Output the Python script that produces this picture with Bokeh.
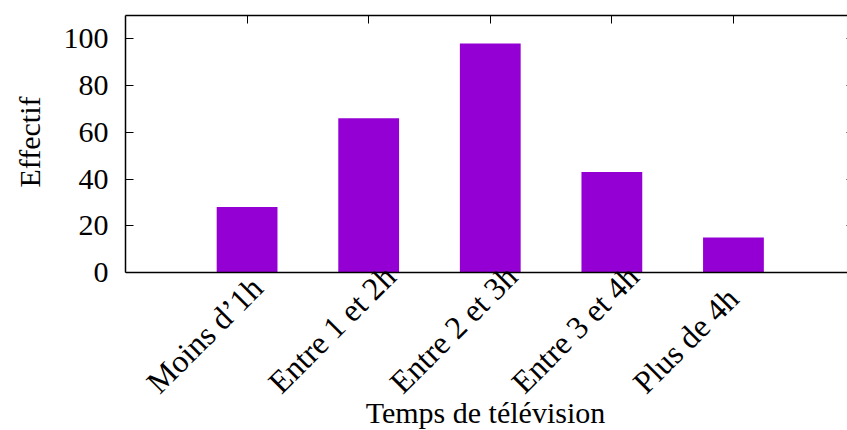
import math
from bokeh.plotting import figure
from bokeh.models import Range1d, FixedTicker, LinearAxis, ColumnDataSource, Span, Title
from bokeh.core.properties import value
from bokeh.embed import file_html
from bokeh.resources import INLINE

categories = ["Moins d\u20191h", "Entre 1 et 2h", "Entre 2 et 3h", "Entre 3 et 4h", "Plus de 4h"]
effectifs = [28, 66, 98, 43, 15]
y_ticks = [0, 20, 40, 60, 80, 100]
x_title = "Temps de t\u00e9l\u00e9vision"
y_title = "Effectif"

FONT = "Liberation Serif"
BAR = "#9400D3"

xs = list(range(len(categories)))
src = ColumnDataSource(dict(x=xs, top=effectifs, base=[0] * len(xs), cat=categories))

X0, X1 = -1.0, 4.938
Y1 = 110
# frame runs from top border down to the page bottom; y=0 sits 158 px above it
Y0 = -Y1 * 158 / 257

p = figure(frame_width=722, frame_height=415,
           min_border_left=125, min_border_top=15, min_border_right=0, min_border_bottom=0,
           x_range=Range1d(X0, X1), y_range=Range1d(Y0, Y1),
           output_backend="svg", toolbar_location=None, x_axis_location=None, y_axis_location=None)
p.outline_line_color = None
p.grid.visible = False
p.background_fill_color = "white"
p.border_fill_color = "white"

p.vbar(x="x", top="top", width=0.5, bottom=0, source=src, fill_color=BAR, line_color=None)

def style(ax, size="30px"):
    ax.axis_line_color = "black"
    ax.axis_line_width = 1.5
    ax.major_tick_line_color = "black"
    ax.major_tick_line_width = 1
    ax.minor_tick_line_color = None
    ax.major_tick_out = 0
    ax.major_tick_in = 8
    ax.major_label_text_font = FONT
    ax.major_label_text_font_size = size
    ax.major_label_text_color = "black"

def hide_labels(ax):
    ax.major_label_text_font_size = "0px"
    ax.major_label_text_color = None
    ax.major_label_standoff = 0

# left axis limited to the data part of the frame
yl = LinearAxis(ticker=FixedTicker(ticks=y_ticks), bounds=(0, Y1))
style(yl)
yl.major_label_standoff = 17
p.add_layout(yl, "left")

# y title, positioned against the data part of the frame
yt = Title(text=y_title, align="right", offset=81, vertical_align="top", standoff=25,
           text_font=FONT, text_font_size="30px", text_font_style="normal", text_color="black")
p.add_layout(yt, "left")

# top axis (mirror ticks)
xt = LinearAxis(ticker=FixedTicker(ticks=xs))
style(xt)
hide_labels(xt)
p.add_layout(xt, "above")

# right axis (mirror ticks; border itself lies outside the view)
yr = LinearAxis(ticker=FixedTicker(ticks=y_ticks), bounds=(0, Y1))
style(yr)
yr.axis_line_color = None
yr.major_tick_in = 1
hide_labels(yr)
p.add_layout(yr, "right")

# bottom border at y = 0
p.add_layout(Span(location=0, dimension="width", line_color="black", line_width=1.5))

# rotated category labels, starting below-left of each bar
p.text(x="x", y="base", text="cat", source=src, angle=math.pi / 4,
       x_offset=-95, y_offset=115, text_align="left", text_baseline="alphabetic",
       text_font=value(FONT), text_font_size="32px", text_color="black")

# x title centred under the frame
p.text(x=[(X0 + X1) / 2], y=[0], text=[x_title], x_offset=-1, y_offset=140,
       text_align="center", text_baseline="alphabetic",
       text_font=value(FONT), text_font_size="30px", text_color="black")

open("out.html", "w").write(file_html(p, INLINE))
